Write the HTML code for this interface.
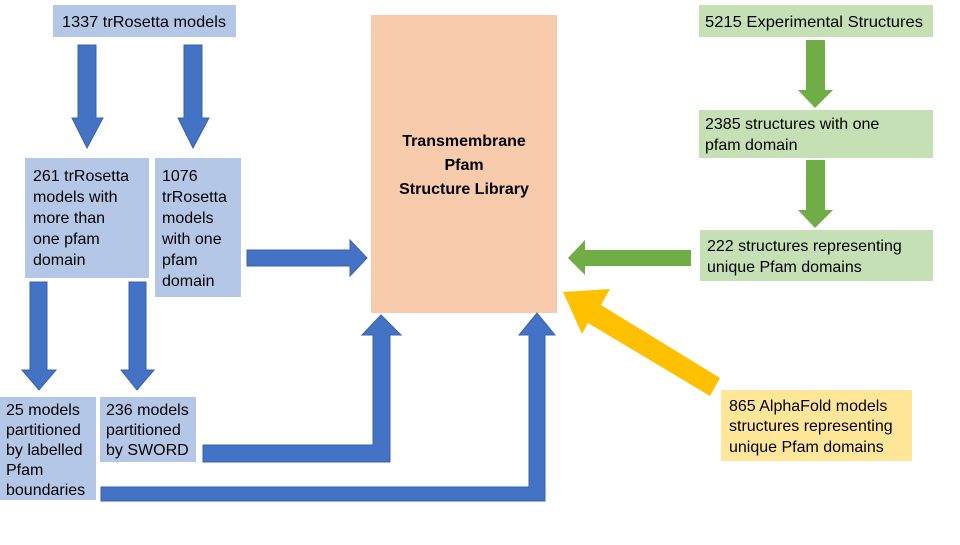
<!DOCTYPE html>
<html><head><meta charset="utf-8"><style>
body{margin:0;background:#fff;}
svg text{font-family:"Liberation Sans",sans-serif;font-size:16px;fill:#000;}
</style></head><body>
<svg width="960" height="540" viewBox="0 0 960 540" xmlns="http://www.w3.org/2000/svg">
<rect width="960" height="540" fill="#fff"/>
<rect x="53" y="5" width="183" height="32" fill="#b4c7e7"/>
<rect x="25" y="158" width="124" height="120" fill="#b4c7e7"/>
<rect x="155" y="158" width="86" height="139" fill="#b4c7e7"/>
<rect x="0" y="397" width="96" height="103" fill="#b4c7e7"/>
<rect x="100" y="397" width="96" height="65" fill="#b4c7e7"/>
<rect x="371" y="15" width="186" height="298" fill="#f8cbad"/>
<rect x="699" y="5" width="234" height="32" fill="#c5e0b4"/>
<rect x="699" y="110" width="234" height="48" fill="#c5e0b4"/>
<rect x="700" y="230" width="233" height="51" fill="#c5e0b4"/>
<rect x="721" y="390" width="191" height="71" fill="#ffe699"/>
<g fill="#4472c4" stroke="#3a63ad" stroke-width="1">
<polygon points="78,45 96,45 96,118 103,118 87,148 72,118 78,118"/>
<polygon points="184,45 202,45 202,118 209,118 193,148 178,118 184,118"/>
<polygon points="30,282 47,282 47,370 56,370 39,390 22,370 30,370"/>
<polygon points="129,282 146,282 146,370 154,370 137,390 121,370 129,370"/>
<polygon points="247,250 350,250 350,240 367,258 350,276 350,266 247,266"/>
<polygon points="203,445 373,445 373,335 362,335 381,315 401,335 390,335 390,462 203,462"/>
<polygon points="101,487 529,487 529,335 519,335 537,313 555,335 545,335 545,501 101,501"/>
</g>
<g fill="#70ad47">
<polygon points="806,40 825,40 825,90 833,90 815,108 798,90 806,90"/>
<polygon points="806,160 825,160 825,210 833,210 815,228 798,210 806,210"/>
<polygon points="691,250 691,266 585,266 585,275 568,258 585,240 585,250"/>
</g>
<polygon fill="#ffc000" points="720,378 710,396 588,323 582,334 563,292 610,289 601,305"/>
<text x="62" y="27" textLength="164" lengthAdjust="spacingAndGlyphs">1337 trRosetta models</text>
<text x="33" y="181">261 trRosetta</text>
<text x="33" y="202">models with</text>
<text x="33" y="223">more than</text>
<text x="33" y="244">one pfam</text>
<text x="33" y="265">domain</text>
<text x="162" y="181">1076</text>
<text x="162" y="202">trRosetta</text>
<text x="162" y="223">models</text>
<text x="162" y="244">with one</text>
<text x="162" y="265">pfam</text>
<text x="162" y="286">domain</text>
<text x="6" y="415" font-size="14">25 models</text>
<text x="6" y="435" font-size="14">partitioned</text>
<text x="6" y="455" font-size="14">by labelled</text>
<text x="6" y="475" font-size="14">Pfam</text>
<text x="6" y="495" font-size="14">boundaries</text>
<text x="106" y="415" font-size="14">236 models</text>
<text x="106" y="435" font-size="14">partitioned</text>
<text x="106" y="455" font-size="14">by SWORD</text>
<g text-anchor="middle">
<text x="464" y="146" font-weight="bold" font-size="17">Transmembrane</text>
<text x="464" y="170" font-weight="bold" font-size="17">Pfam</text>
<text x="464" y="194" font-weight="bold" font-size="17">Structure Library</text>
</g>
<text x="705" y="27" textLength="218" lengthAdjust="spacingAndGlyphs">5215 Experimental Structures</text>
<text x="705" y="129">2385 structures with one</text>
<text x="705" y="150">pfam domain</text>
<text x="707" y="251">222 structures representing</text>
<text x="707" y="272">unique Pfam domains</text>
<text x="729" y="411">865 AlphaFold models</text>
<text x="729" y="431">structures representing</text>
<text x="729" y="452">unique Pfam domains</text>
</svg>
</body></html>
